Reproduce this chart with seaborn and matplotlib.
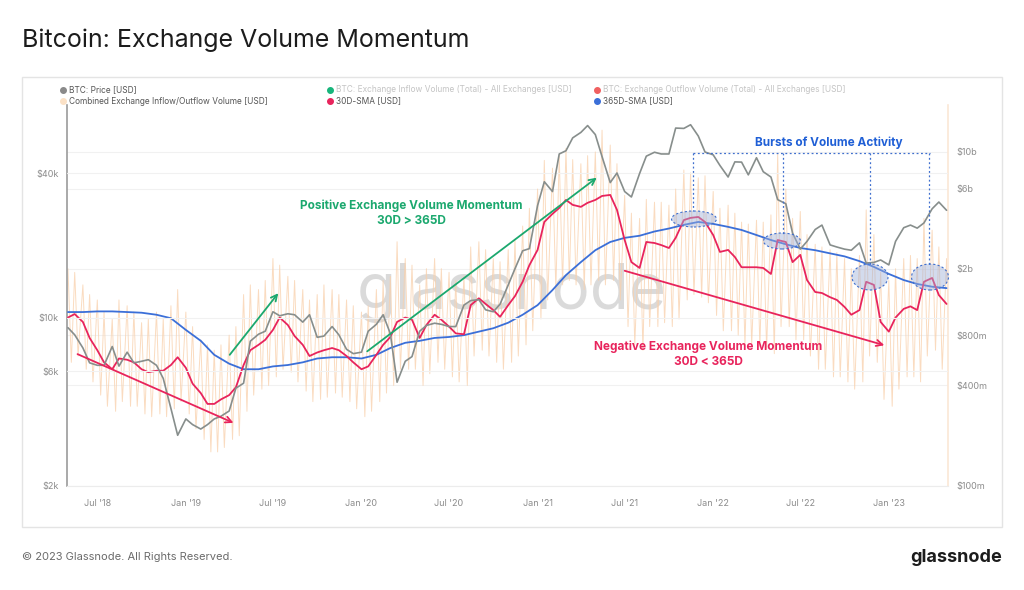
import pandas as pd
import matplotlib
matplotlib.use("Agg")
import matplotlib.pyplot as plt
import matplotlib.dates as mdates
from matplotlib.patches import Ellipse, Rectangle, FancyArrowPatch
from matplotlib.lines import Line2D
from matplotlib.ticker import FixedLocator, FixedFormatter, NullLocator
import seaborn as sns

sns.set_style("white")
plt.rcParams["font.family"] = ["Inter", "DejaVu Sans"]

# semi-monthly points (1st / 15th), May 2018 -> May 2023
dates = pd.date_range("2018-05-01", periods=121, freq="SMS")
months = pd.date_range("2018-05-01", periods=61, freq="MS")

btc_price = [
    9100, 8500, 7500, 6500, 6350, 6350, 7600, 6300, 7200, 6500, 6600, 6700, 6350, 5600, 4200, 3250,
    3800, 3600, 3450, 3600, 3800, 3900, 4100, 5100, 5350, 8000, 8550, 8800,
    10600, 10200, 10400, 10300, 9600, 10300, 8300, 8400, 9200, 8500, 7400, 7100,
    7200, 8800, 9400, 10300, 8600, 5400, 6600, 6900, 8800, 9300, 9500, 9400,
    9200, 9200, 11300, 11800, 11900, 10800, 10600, 11400, 13700, 16000, 19000, 19400,
    29300, 36800, 33500, 48000, 49500, 56000, 59000, 63000, 57800, 46800, 36500, 40000,
    33500, 31800, 39800, 47000, 48800, 48000, 48000, 61500, 61300, 63500, 57000, 48900,
    47600, 43000, 38500, 44500, 44400, 39300, 46300, 40500, 38500, 31000, 29800, 22500,
    19300, 20800, 23300, 24300, 20100, 19700, 19300, 19100, 20500, 16900, 17000, 17400,
    16600, 20800, 23700, 24300, 23600, 24800, 28400, 30300, 28000,
]

# 30D-SMA of combined exchange volume, billions USD (semi-monthly)
sma30_bn = [
    1.02, 1.07, 0.96, 0.77, 0.65, 0.55, 0.50, 0.58, 0.57, 0.55, 0.50, 0.48, 0.49, 0.49, 0.53, 0.59,
    0.51, 0.41, 0.36, 0.31, 0.31, 0.33, 0.35, 0.39, 0.53, 0.65, 0.70, 0.75,
    0.86, 1.02, 0.92, 0.79, 0.70, 0.60, 0.63, 0.65, 0.67, 0.65, 0.60, 0.55,
    0.50, 0.52, 0.61, 0.70, 0.78, 0.96, 1.02, 0.99, 0.77, 0.92, 1.06, 0.99,
    0.90, 0.82, 0.81, 1.21, 1.33, 1.23, 1.13, 1.03, 1.21, 1.37, 1.67, 2.10,
    2.59, 3.81, 4.26, 4.62, 5.16, 4.82, 4.69, 4.96, 5.16, 5.45, 5.53, 4.50,
    2.97, 2.19, 2.02, 2.89, 2.85, 2.77, 2.66, 3.06, 3.91, 4.03, 4.08, 3.81,
    3.18, 2.52, 2.59, 2.35, 2.04, 2.04, 2.04, 2.02, 1.86, 2.97, 2.89, 2.19,
    2.42, 1.71, 1.45, 1.43, 1.35, 1.30, 1.18, 1.06, 1.13, 1.67, 1.60, 0.96,
    0.84, 1.02, 1.15, 1.19, 1.13, 1.67, 1.76, 1.39, 1.23,
]

# 365D-SMA, billions USD (monthly)
sma365_bn = [
    1.10, 1.10, 1.11, 1.11, 1.10, 1.09, 1.06, 1.01, 0.86, 0.74, 0.61, 0.54,
    0.50, 0.50, 0.52, 0.53, 0.55, 0.58, 0.59, 0.59, 0.58, 0.61, 0.67, 0.72,
    0.74, 0.77, 0.78, 0.80, 0.84, 0.88, 0.95, 1.06, 1.21, 1.49, 1.83, 2.19,
    2.58, 2.89, 3.06, 3.15, 3.34, 3.48, 3.66, 3.81, 3.71, 3.56, 3.41, 3.18,
    2.97, 2.80, 2.66, 2.58, 2.47, 2.37, 2.22, 2.05, 1.86, 1.71, 1.62, 1.56,
    1.53,
]

# combined inflow/outflow volume: spike highs and lows, billions USD
vol_high_bn = [
    2.0, 1.9, 1.6, 1.4, 1.3, 1.1, 1.0, 1.3, 1.2, 1.1, 0.95, 1.0, 1.1, 1.0, 1.2, 1.5,
    1.1, 0.9, 0.75, 0.7, 0.65, 0.7, 0.8, 0.9, 1.4, 1.6, 1.5, 1.7,
    2.3, 2.1, 1.8, 1.7, 1.5, 1.3, 1.4, 1.6, 1.5, 1.4, 1.3, 1.2,
    1.1, 1.2, 1.5, 1.7, 1.8, 2.9, 2.3, 2.1, 1.6, 2.0, 2.3, 2.0,
    1.9, 1.7, 1.8, 2.7, 2.9, 2.6, 2.3, 2.2, 2.6, 3.0, 3.6, 4.6,
    6.0, 8.9, 8.0, 9.5, 10.5, 9.0, 8.5, 9.5, 10.0, 13.5, 11.0, 8.5,
    5.5, 4.3, 4.0, 5.2, 5.0, 5.0, 4.8, 6.0, 7.8, 7.5, 7.0, 7.2,
    5.8, 4.6, 4.8, 4.3, 3.8, 3.7, 3.9, 3.8, 4.2, 9.8, 6.0, 4.0,
    4.4, 3.2, 2.8, 2.7, 2.6, 2.5, 2.3, 2.0, 2.4, 4.5, 3.2, 1.9,
    1.7, 2.0, 2.3, 2.4, 2.3, 4.0, 3.4, 2.7, 2.3,
]
vol_low_bn = [
    0.55, 0.6, 0.5, 0.42, 0.35, 0.3, 0.28, 0.32, 0.3, 0.3, 0.27, 0.26, 0.27, 0.26, 0.29, 0.32,
    0.27, 0.22, 0.19, 0.16, 0.16, 0.17, 0.19, 0.2, 0.28, 0.35, 0.38, 0.4,
    0.45, 0.5, 0.48, 0.42, 0.37, 0.32, 0.33, 0.34, 0.36, 0.34, 0.32, 0.29,
    0.26, 0.28, 0.32, 0.36, 0.4, 0.5, 0.5, 0.5, 0.4, 0.47, 0.55, 0.5,
    0.45, 0.42, 0.4, 0.6, 0.65, 0.6, 0.55, 0.5, 0.55, 0.6, 0.7, 0.85,
    1.0, 1.3, 1.5, 1.6, 1.7, 1.6, 1.5, 1.6, 1.7, 1.6, 1.7, 1.3,
    0.9, 0.7, 0.65, 0.9, 0.9, 0.95, 0.9, 1.0, 1.3, 1.4, 1.35, 1.25,
    1.05, 0.85, 0.85, 0.8, 0.7, 0.7, 0.68, 0.66, 0.62, 0.9, 0.9, 0.75,
    0.75, 0.6, 0.5, 0.5, 0.45, 0.45, 0.42, 0.38, 0.42, 0.6, 0.55, 0.33,
    0.3, 0.38, 0.45, 0.45, 0.42, 0.6, 0.65, 0.5, 0.45,
]

price_ticks = [2000, 6000, 10000, 40000]
price_labels = ["$2k", "$6k", "$10k", "$40k"]
vol_ticks = [1e8, 4e8, 8e8, 2e9, 6e9, 1e10]
vol_labels = ["$100m", "$400m", "$800m", "$2b", "$6b", "$10b"]

C_PRICE = "#878e8c"
C_VOL = "#f9d0ab"
C_SMA30 = "#e8245c"
C_SMA365 = "#3b6fd8"
C_GREEN = "#1ba86e"
C_BLUE_TXT = "#1f5fd6"

W, H = 1024, 590


def px(x, y):
    return (x / W, 1 - y / H)


# zigzag volume: high on the date, low a week later
vol_dates, vol_vals = [], []
for d, hi, lo in zip(dates, vol_high_bn, vol_low_bn):
    vol_dates += [d, d + pd.Timedelta(days=7)]
    vol_vals += [hi * 1e9, lo * 1e9]

fig = plt.figure(figsize=(W / 100, H / 100), dpi=100)
fig.patch.set_facecolor("white")
fig.add_artist(Rectangle(px(22, 527), 980 / W, 450 / H, transform=fig.transFigure,
                         facecolor="none", edgecolor="#e4e4e4", lw=1, zorder=0))

ax = fig.add_axes([67 / W, 1 - 486 / H, (948 - 67) / W, (486 - 105) / H])
ax.set_yscale("log")

sns.lineplot(x=vol_dates, y=vol_vals, ax=ax, color=C_VOL, lw=0.7, alpha=0.75, zorder=2)
sns.lineplot(x=months, y=[v * 1e9 for v in sma365_bn], ax=ax, color=C_SMA365, lw=1.3, zorder=4)
sns.lineplot(x=dates, y=[v * 1e9 for v in sma30_bn], ax=ax, color=C_SMA30, lw=1.3, zorder=4)

ax.set_ylim(1e8, 1.91e10)
ax.set_xlim(pd.Timestamp("2018-04-29"), pd.Timestamp("2023-05-04"))
ax.grid(axis="y", color="#f1f1f1", lw=0.8)
ax.set_xlabel("")
ax.set_ylabel("")
ax.spines["top"].set_visible(False)
ax.spines["left"].set_color("#9b9b9b")
ax.spines["left"].set_linewidth(1.2)
ax.spines["right"].set_color("#fbe7d6")
ax.spines["right"].set_linewidth(1.2)
ax.spines["bottom"].set_color("#ececec")

ax.text(512 / W, 1 - 292 / H, "glassnode", transform=fig.transFigure, fontsize=46,
        color="#bdbdbd", alpha=0.55, ha="center", va="center", zorder=1)

ax2 = ax.twinx()
sns.lineplot(x=dates, y=btc_price, ax=ax2, color=C_PRICE, lw=1.2, zorder=3)
ax2.set_yscale("log")
ax2.set_ylim(2000, 76700)
ax2.grid(axis="y", color="#f1f1f1", lw=0.8)
ax2.set_ylabel("")
for s in ax2.spines.values():
    s.set_visible(False)

# tick sides: volume on the right, price on the left (after twinx)
ax.yaxis.tick_right()
ax.yaxis.set_major_locator(FixedLocator(vol_ticks))
ax.yaxis.set_major_formatter(FixedFormatter(vol_labels))
ax.yaxis.set_minor_locator(NullLocator())
ax.xaxis.set_major_locator(FixedLocator(mdates.date2num(pd.date_range("2018-07-01", "2023-01-01", freq="6MS"))))
ax.xaxis.set_major_formatter(mdates.DateFormatter("%b '%y"))
ax.tick_params(axis="both", length=0, labelsize=6.5, labelcolor="#8c8c8c")
ax.tick_params(axis="x", pad=9)
ax.tick_params(axis="y", pad=6)

ax2.yaxis.tick_left()
ax2.yaxis.set_major_locator(FixedLocator(price_ticks))
ax2.yaxis.set_major_formatter(FixedFormatter(price_labels))
ax2.yaxis.set_minor_locator(NullLocator())
ax2.tick_params(axis="y", length=0, labelsize=6.5, labelcolor="#8c8c8c", pad=6)

# title, footer
fig.text(*px(22, 40), "Bitcoin: Exchange Volume Momentum", fontsize=18, color="#1c1c1c",
         ha="left", va="center")
fig.text(*px(22, 557), "\u00a9 2023 Glassnode. All Rights Reserved.", fontsize=8,
         color="#6b6b6b", ha="left", va="center")
fig.text(*px(1002, 558), "glassnode", fontsize=13, weight="bold", color="#1c1c1c",
         ha="right", va="center")

# legend
legend_items = [
    (63, 90, "#8a8a8a", "BTC: Price [USD]", "#555555"),
    (330, 90, "#17b57b", "BTC: Exchange Inflow Volume (Total) - All Exchanges [USD]", "#c4c4c4"),
    (597, 90, "#f06060", "BTC: Exchange Outflow Volume (Total) - All Exchanges [USD]", "#c4c4c4"),
    (63, 101, "#fbe1c6", "Combined Exchange Inflow/Outflow Volume [USD]", "#555555"),
    (330, 101, C_SMA30, "30D-SMA [USD]", "#555555"),
    (597, 101, C_SMA365, "365D-SMA [USD]", "#555555"),
]
for x, y, c, label, tc in legend_items:
    fig.add_artist(Line2D([x / W], [1 - y / H], marker="o", markersize=4, color=c,
                          transform=fig.transFigure))
    fig.text(*px(x + 6, y), label, fontsize=6, color=tc, ha="left", va="center")


def arrow(p0, p1, color):
    fig.add_artist(FancyArrowPatch(px(*p0), px(*p1), transform=fig.transFigure,
                                   arrowstyle="->", mutation_scale=11, color=color, lw=1.3))


arrow((75, 353), (236, 424), C_SMA30)
arrow((228, 357), (280, 291), C_GREEN)
arrow((365, 353), (599, 176), C_GREEN)
arrow((622, 270), (887, 346), C_SMA30)

fig.text(*px(411, 213), "Positive Exchange Volume Momentum\n30D > 365D", fontsize=8.5,
         weight="bold", color=C_GREEN, ha="center", va="center", linespacing=1.35)
fig.text(*px(708, 354), "Negative Exchange Volume Momentum\n30D < 365D", fontsize=8.5,
         weight="bold", color=C_SMA30, ha="center", va="center", linespacing=1.35)
fig.text(*px(829, 143), "Bursts of Volume Activity", fontsize=8.5, weight="bold",
         color=C_BLUE_TXT, ha="center", va="center")

# bursts: dotted bracket + shaded ellipses
dot_kw = dict(color="#3f6fce", lw=0.9, ls=(0, (1.5, 2)), transform=fig.transFigure)
fig.add_artist(Line2D([693 / W, 930 / W], [1 - 153 / H, 1 - 153 / H], **dot_kw))
for xv, ybot in [(693, 211), (783, 234), (870, 265), (929, 265)]:
    fig.add_artist(Line2D([xv / W, xv / W], [1 - 153 / H, 1 - ybot / H], **dot_kw))
for cx, cy, w, h in [(694, 219, 45, 16), (782, 241, 37, 16), (870, 277, 36, 26), (930, 277, 37, 26)]:
    fig.add_artist(Ellipse(px(cx, cy), w / W, h / H, transform=fig.transFigure,
                           facecolor="#9fb0d8", alpha=0.45, edgecolor="none"))
    fig.add_artist(Ellipse(px(cx, cy), w / W, h / H, transform=fig.transFigure,
                           facecolor="none", edgecolor="#3f6fce", lw=0.8, ls=(0, (2, 2))))

fig.savefig("out.png", dpi=100)
